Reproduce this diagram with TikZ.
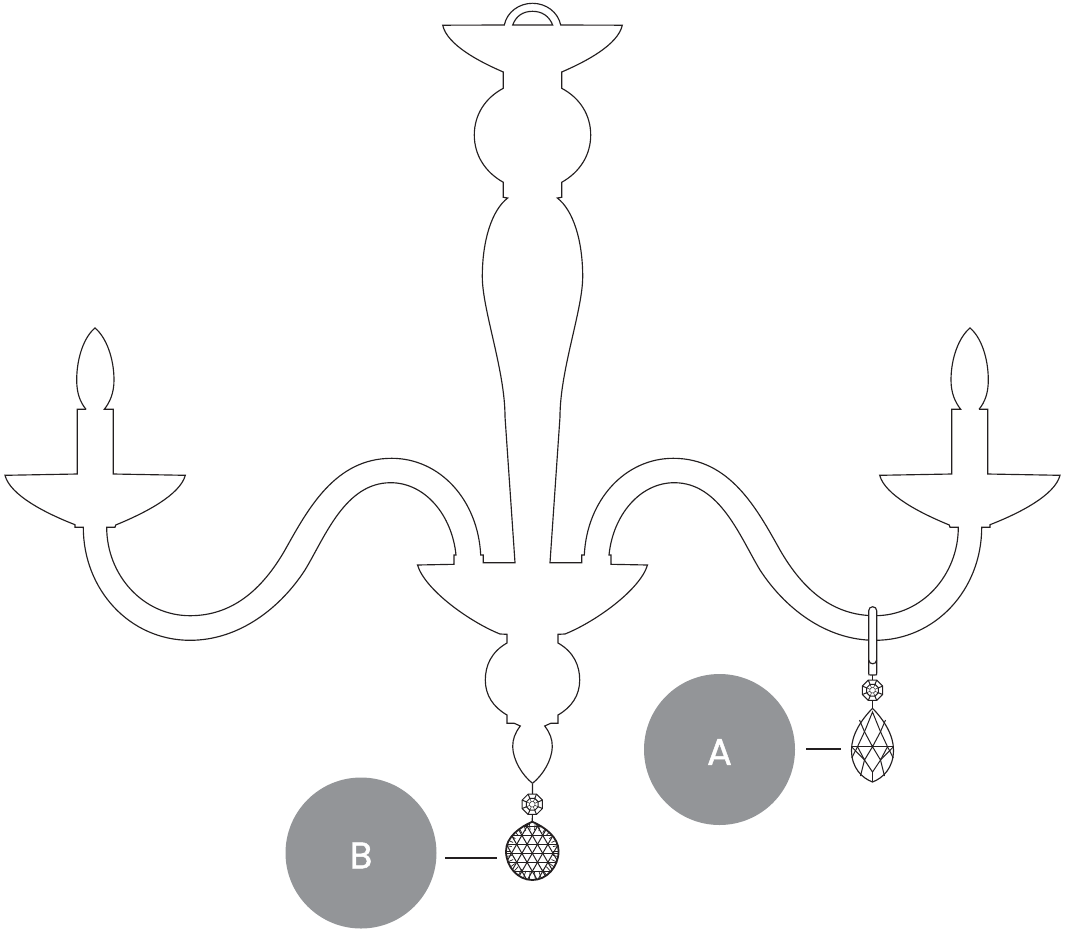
\documentclass[tikz,border=0pt]{standalone}
\usepackage{fontspec}
\setmainfont{Poppins}
\newfontfamily\badgefont{Poppins}[FakeBold=1.2]
\definecolor{ink}{HTML}{231F20}
\definecolor{badge}{HTML}{939598}
\tikzset{
  outline/.style={draw=ink,line width=1.15pt,line join=miter,fill=none},
  fine/.style={draw=ink,line width=1pt},
  rim/.style={draw=ink,line width=1.8pt,line join=round},
  leader/.style={draw=ink,line width=2.3pt},
  badgecircle/.style={circle,fill=badge,draw=none,minimum size=151pt,inner sep=0pt,text=white,font=\badgefont\fontsize{37}{37}\selectfont},
  gem/.pic={
    \draw[fine,fill=white] (22.5:11) \foreach \a in {67.5,112.5,...,337.5}{ -- (\a:11)} -- cycle;
    \draw[fine] (22.5:6.4) \foreach \a in {67.5,112.5,...,337.5}{ -- (\a:6.4)} -- cycle;
    \foreach \a in {22.5,67.5,...,337.5}{\draw[fine] (\a:11) -- (\a:6.4);}
    \draw[fine,line width=.5pt] (22.5:2.8) \foreach \a in {67.5,112.5,...,337.5}{ -- (\a:2.8)} -- cycle;
    \foreach \a in {22.5,67.5,...,337.5}{\draw[fine,line width=.5pt] (\a:6.4) -- (\a:2.8);}
  }
}
\newcommand{\armhalf}{%
  \draw[outline] (86,409.3) .. controls (80,402) and (76.7,393) .. (76.7,380)
    .. controls (76.7,358) and (84,337) .. (95,328)
    .. controls (106,337) and (114,358) .. (114,380)
    .. controls (114,393) and (110,402) .. (104.3,409.3)
    -- (113.3,409.3) -- (113.3,474) -- (185.3,475.3)
    .. controls (180,495) and (145,513) .. (115.7,525)
    -- (115,527.3) -- (106.7,527.3)
    .. controls (106.7,575) and (143,615.7) .. (190,615.7)
    .. controls (232,615.7) and (262,590) .. (285,550)
    .. controls (308,509) and (335,458.3) .. (391.7,458.3)
    .. controls (440,458.3) and (478,500) .. (480.7,555)
    -- (483.3,555) -- (483.3,562.7) -- (515,562.7) -- (505,416.7)
    .. controls (505,370) and (482.3,310) .. (482.3,276.7)
    .. controls (482.3,240) and (492,210) .. (507.7,198)
    -- (503.3,197.3) -- (503.3,182.3)
    .. controls (485,172) and (474.3,155) .. (474.3,135)
    .. controls (474.3,115) and (485,98) .. (503.3,88.3)
    -- (503.3,72)
    .. controls (480,62) and (447,45) .. (442.7,25.2)
    -- (504.3,25) .. controls (507,12) and (519,3.3) .. (532.5,3.3);
  \draw[outline] (86,409.3) -- (77.3,409.3) -- (77.3,474) -- (5,475.3)
    .. controls (10,495) and (45,513) .. (75,524.7)
    -- (75,527.3) -- (83.3,527.3)
    .. controls (83.3,590) and (130,640.3) .. (190,640.3)
    .. controls (240,640.3) and (281,607) .. (305,570)
    .. controls (325,537) and (345,482.7) .. (390.7,482.7)
    .. controls (425,482.7) and (452,515) .. (456,555)
    -- (454,555) -- (454,564.3) -- (417.5,565)
    .. controls (425,590) and (470,622) .. (500,634)
    -- (507,634.3) -- (507,643)
    .. controls (491,652) and (485.3,666) .. (485.3,680)
    .. controls (485.3,695) and (493,707) .. (507,715)
    -- (507,723.3) -- (514.3,723.3) -- (520.3,726)
    .. controls (515,733) and (512.7,739) .. (512.7,746.7)
    .. controls (513,760) and (522,775) .. (532.5,783.3);
}
\newcommand{\ballpath}{(532.3,821.7) .. controls (520,827) and (506,837) .. (506,851)
     .. controls (506,867) and (518,880) .. (532.3,880)
     .. controls (546.6,880) and (558.6,867) .. (558.6,851)
     .. controls (558.6,837) and (544.6,827) .. (532.3,821.7) -- cycle}
\begin{document}
\begin{tikzpicture}[x=1pt,y=-1pt]
\useasboundingbox (0,0) rectangle (1068,929);
\armhalf
\begin{scope}[shift={(1065,0)},xscale=-1]
\armhalf
\end{scope}
% inner arch
\draw[outline] (512.7,25) .. controls (516,16) and (523,11.3) .. (532.5,11.3)
  .. controls (542,11.3) and (549,16) .. (552.7,25) -- cycle;
% pendant B
\coordinate (linkBtop) at (532.5,783.3);
\coordinate (gemB) at (532.3,804.3);
\coordinate (ballBtop) at (532.3,821.7);
\draw[outline] (linkBtop) -- (ballBtop);
\pic at (gemB) {gem};
\begin{scope}
  \clip \ballpath;
  \foreach \k in {-3,...,3}{\draw[fine] (500,{853.3+\k*9}) -- (565,{853.3+\k*9});}
  \foreach \i in {-6,...,6}{
    \draw[fine] ({532.3+\i*10.4+20.8},817.3) -- ({532.3+\i*10.4-20.8},889.3);
    \draw[fine] ({532.3+\i*10.4-20.8},817.3) -- ({532.3+\i*10.4+20.8},889.3);
  }
  \foreach \a in {0,12,...,348}{\draw[fine,line width=.7pt] ({532.3+21*cos(\a)},{851+21*sin(\a)}) -- ({532.3+33*cos(\a)},{851+33*sin(\a)});}
\end{scope}
\draw[rim] \ballpath;
% pendant A
\coordinate (dropAtop) at (872.5,708.3);
\coordinate (gemA) at (872.5,690.3);
\coordinate (loopbottom) at (872.5,675);
\draw[outline,fill=white] (868.7,610.7) arc[start angle=180,end angle=360,radius=4]
  -- (876.7,673) .. controls (876.7,675) .. (874.7,675) -- (870.7,675)
  .. controls (868.7,675) .. (868.7,673) -- cycle;
\draw[outline] (868.7,660) .. controls (869,665) and (876.4,665) .. (876.7,660);
\draw[outline] (loopbottom) -- (dropAtop);
\pic at (gemA) {gem};
\draw[outline] (872.5,708.3) .. controls (861,720) and (851.5,735) .. (851.5,750)
  .. controls (851.5,768) and (862,778) .. (872.5,782)
  .. controls (883,778) and (893.5,768) .. (893.5,750)
  .. controls (893.5,735) and (884,720) .. (872.5,708.3) -- cycle;
\begin{scope}[shift={(872.5,0)}]
  \draw[fine] (-21,746.7) -- (21,746.7);
  \draw[fine] (0,712) -- (-8,731.7) -- (0,746.7) -- (8,731.7) -- cycle;
  \draw[fine] (-8,731.7) -- (-15,746.7) -- (-8,760) -- (0,746.7) -- (8,760) -- (15,746.7) -- (8,731.7);
  \draw[fine] (-8,760) -- (0,772) -- (8,760);
  \draw[fine] (0,772) -- (0,782);
  \draw[fine] (-8,731.7) -- (-13,720);
  \draw[fine] (8,731.7) -- (13,720);
  \draw[fine] (-15,746.7) -- (-20.8,758);
  \draw[fine] (15,746.7) -- (20.8,758);
  \draw[fine] (-8,760) -- (-12,776);
  \draw[fine] (8,760) -- (12,776);
  \draw[fine] (-21,746.7) -- (-8,760);
  \draw[fine] (21,746.7) -- (8,760);
\end{scope}
% badges
\node[badgecircle] (A) at (719.5,749.5) {\raisebox{-2.5pt}[\height][\depth]{A}};
\node[badgecircle] (B) at (361,853) {\raisebox{-2.5pt}[\height][\depth]{B}};
\coordinate (leadAfrom) at (806,749.3);
\coordinate (leadAto) at (841,749.3);
\coordinate (leadBfrom) at (445,857.7);
\coordinate (leadBto) at (496.7,857.7);
\draw[leader] (leadAfrom) -- (leadAto);
\draw[leader] (leadBfrom) -- (leadBto);
\end{tikzpicture}
\end{document}
